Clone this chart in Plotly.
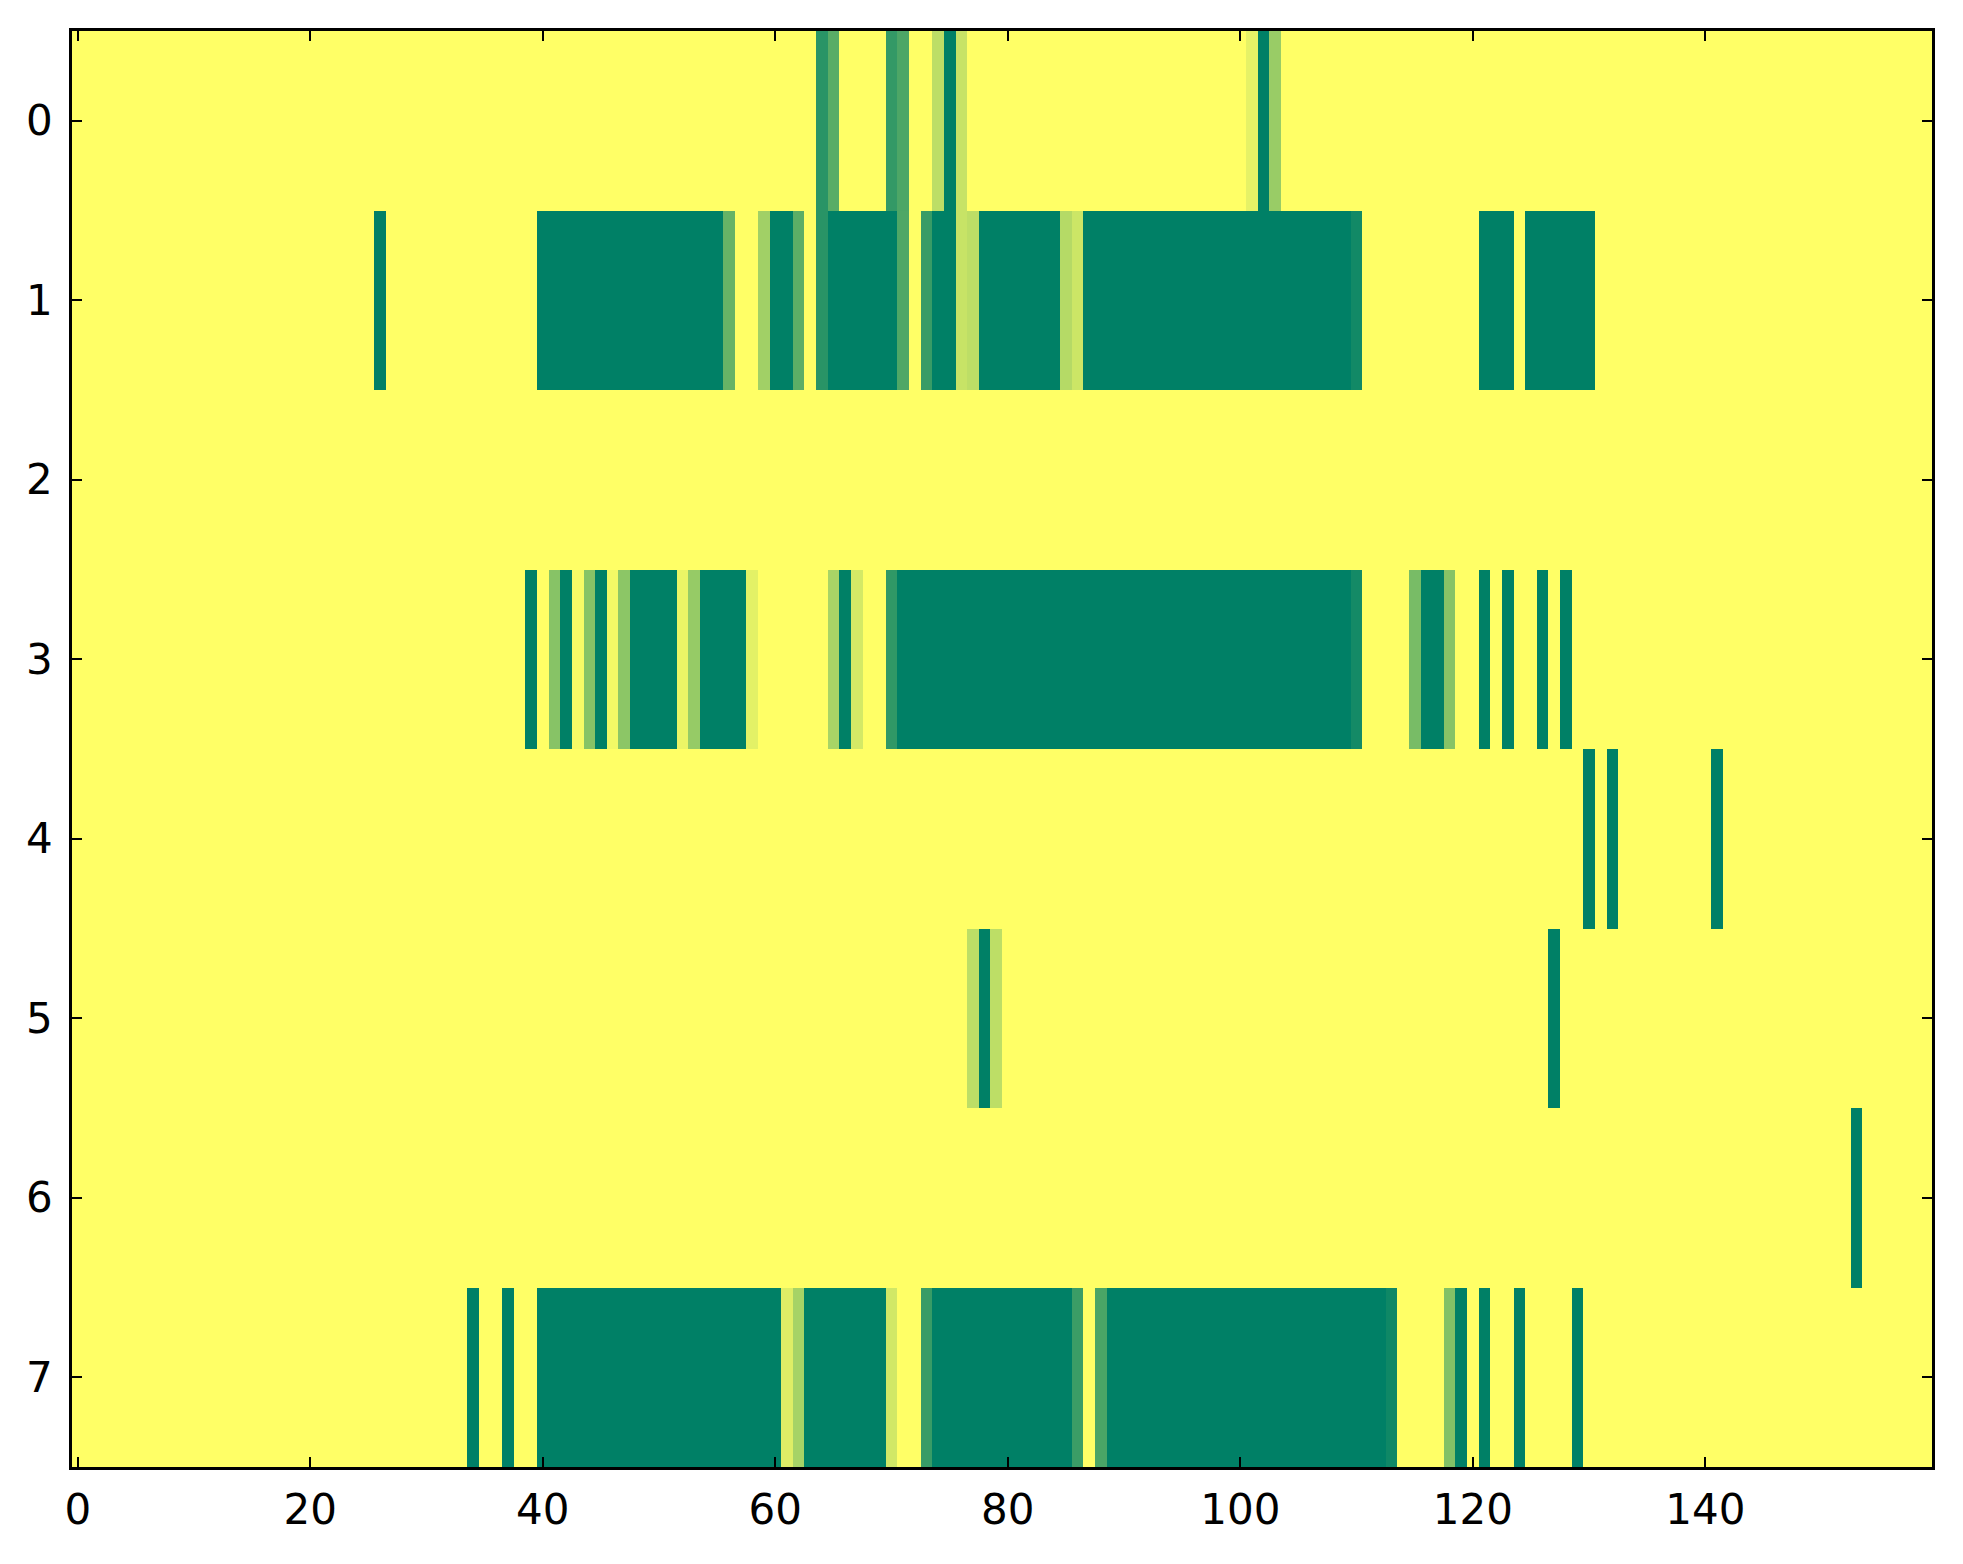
import numpy as np
import plotly.graph_objects as go

# grid size
n_rows = 8
n_cols = 160

# each row is a list of runs: (first column, last column, value)
row0 = [(64, 64, 0.84), (65, 65, 0.65), (70, 70, 0.80), (71, 71, 0.70),
        (74, 74, 0.26), (75, 75, 1.0), (76, 76, 0.22),
        (101, 101, 0.10), (102, 102, 1.0), (103, 103, 0.40)]
row1 = [(26, 26, 1.0), (40, 55, 1.0), (56, 56, 0.60), (59, 59, 0.37),
        (60, 61, 1.0), (62, 62, 0.64), (64, 64, 0.84), (65, 70, 1.0),
        (71, 71, 0.69), (73, 73, 0.78), (74, 75, 1.0), (76, 76, 0.22),
        (77, 77, 0.26), (78, 84, 1.0), (85, 85, 0.29), (86, 86, 0.20),
        (87, 109, 1.0), (110, 110, 0.93), (121, 123, 1.0), (125, 130, 1.0)]
row2 = []
row3 = [(39, 39, 1.0), (41, 41, 0.47), (42, 42, 1.0), (43, 43, 0.03),
        (44, 44, 0.47), (45, 45, 1.0), (46, 46, 0.05), (47, 47, 0.45),
        (48, 51, 1.0), (52, 52, 0.08), (53, 53, 0.41), (54, 57, 1.0),
        (58, 58, 0.11), (65, 65, 0.34), (66, 66, 1.0), (67, 67, 0.17),
        (70, 70, 0.81), (71, 109, 1.0), (110, 110, 0.92), (115, 115, 0.53),
        (116, 117, 1.0), (118, 118, 0.47), (121, 121, 1.0), (123, 123, 1.0),
        (126, 126, 1.0), (128, 128, 1.0)]
row4 = [(130, 130, 1.0), (132, 132, 1.0), (141, 141, 1.0)]
row5 = [(77, 77, 0.26), (78, 78, 1.0), (79, 79, 0.26), (127, 127, 1.0)]
row6 = [(153, 153, 1.0)]
row7 = [(34, 34, 1.0), (37, 37, 1.0), (40, 60, 1.0), (61, 61, 0.13),
        (62, 62, 0.35), (63, 69, 1.0), (70, 70, 0.18), (73, 73, 0.78),
        (74, 85, 1.0), (86, 86, 0.77), (88, 88, 0.71), (89, 112, 1.0),
        (113, 113, 0.94), (118, 118, 0.49), (119, 119, 1.0), (121, 121, 1.0),
        (124, 124, 1.0), (129, 129, 1.0)]

x_ticks = [0, 20, 40, 60, 80, 100, 120, 140]
y_ticks = [0, 1, 2, 3, 4, 5, 6, 7]

# fill the matrix from the runs
z = np.zeros((n_rows, n_cols))
for r, runs in enumerate([row0, row1, row2, row3, row4, row5, row6, row7]):
    for a, b, v in runs:
        z[r, a:b + 1] = v

# matplotlib summer_r
summer_r = [[0.0, "rgb(255,255,102)"], [1.0, "rgb(0,128,102)"]]

fig = go.Figure(go.Heatmap(
    z=z,
    x=list(range(n_cols)),
    y=list(range(n_rows)),
    colorscale=summer_r,
    zmin=0, zmax=1,
    showscale=False,
    hoverinfo="skip",
))

axis_style = dict(
    showline=True, linecolor="black", linewidth=2.5, mirror="ticks",
    ticks="inside", ticklen=10, tickwidth=1.5, tickcolor="black",
    showgrid=False, zeroline=False,
    tickfont=dict(family="DejaVu Sans", size=42, color="black"),
)

fig.update_xaxes(range=[-0.5, n_cols - 0.5], tickvals=x_ticks, ticklabelstandoff=4, **axis_style)
fig.update_yaxes(range=[n_rows - 0.5, -0.5], tickvals=y_ticks, ticklabelstandoff=8, **axis_style)

# the html page adds an 8px body margin, so shrink the figure to fit
fig.update_layout(
    width=1947, height=1548,
    margin=dict(l=64, r=23, t=23, b=89),
    paper_bgcolor="white",
    plot_bgcolor="white",
)

fig.write_html("out.html")
